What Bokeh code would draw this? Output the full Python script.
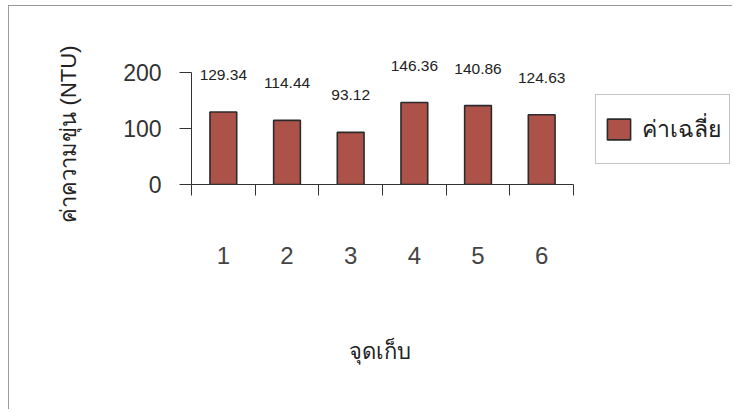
from bokeh.plotting import figure
from bokeh.models import ColumnDataSource, LabelSet, FixedTicker, Legend, LegendItem, Title
from bokeh.core.properties import value
from bokeh.embed import file_html
from bokeh.resources import INLINE

categories = ["1", "2", "3", "4", "5", "6"]
values = [129.34, 114.44, 93.12, 146.36, 140.86, 124.63]
y_ticks = [0, 100, 200]
series_name = "ค่าเฉลี่ย"
x_title = "จุดเก็บ"
y_title = "ค่าความขุ่น (NTU)"

n = len(categories)
positions = [i + 1 for i in range(n)]
source = ColumnDataSource(dict(
    x=positions,
    top=values,
    label=["{:.2f}".format(v) for v in values],
))

W, H = 724, 404
LEFT, TOP, BOTTOM = 182, 22, 226
PX_PER_CAT = 63.67
PX_PER_UNIT = 0.56
x_end = 0.5 + (W - LEFT) / PX_PER_CAT
y_end = (H - TOP - BOTTOM) / PX_PER_UNIT

p = figure(width=W, height=H, output_backend="svg", toolbar_location=None,
           x_range=(0.5, x_end), y_range=(0, y_end),
           min_border_left=LEFT, min_border_right=0, min_border_top=TOP, min_border_bottom=BOTTOM)
p.styles = {"border-top": "1px solid #9a9a9a", "border-left": "1px solid #9a9a9a",
            "margin-left": "8px", "margin-top": "5px"}
p.outline_line_color = None
p.xgrid.grid_line_color = None
p.ygrid.grid_line_color = None
p.background_fill_color = "white"
p.border_fill_color = "white"

bars = p.vbar(x="x", top="top", width=0.42, bottom=0, source=source,
              fill_color="#ad5249", line_color="#2b2b2b", line_width=1.6)

labels = LabelSet(x="x", y="top", text="label", source=source,
                  text_align="center", text_baseline="middle", y_offset=37,
                  text_font=value("Liberation Sans"), text_font_size=value("15.5px"),
                  text_color="#222222")
p.add_layout(labels)

# x axis
xa = p.xaxis[0]
xa.bounds = (0.5, n + 0.5)
xa.ticker = FixedTicker(ticks=positions, minor_ticks=[i + 0.5 for i in range(n + 1)])
xa.major_label_overrides = {pos: c for pos, c in zip(positions, categories)}
xa.major_tick_out = 0
xa.major_tick_in = 0
xa.minor_tick_out = 11
xa.minor_tick_in = 0
xa.minor_tick_line_color = "#333333"
xa.axis_line_color = "#333333"
xa.major_label_standoff = 51
xa.major_label_text_font = "Liberation Sans"
xa.major_label_text_font_size = "24px"
xa.major_label_text_color = "#444444"
# the frame is widened to hold the legend, so the centred label is padded
# with trailing no-break spaces to sit under the bars as in the reference
xa.axis_label = x_title + "\u00a0" * 27
xa.axis_label_standoff = 72
xa.axis_label_text_font = "Liberation Sans"
xa.axis_label_text_font_style = "normal"
xa.axis_label_text_font_size = "22px"
xa.axis_label_text_color = "#222222"

# y axis
ya = p.yaxis[0]
ya.bounds = (0, 200)
ya.ticker = FixedTicker(ticks=y_ticks)
ya.major_tick_out = 12
ya.major_tick_in = 0
ya.minor_tick_out = 0
ya.minor_tick_in = 0
ya.major_tick_line_color = "#333333"
ya.axis_line_color = "#333333"
ya.major_label_standoff = 18
ya.major_label_text_font = "Liberation Sans"
ya.major_label_text_font_size = "23px"
ya.major_label_text_color = "#333333"

ytitle = Title(text=y_title, align="left", offset=-38, standoff=80,
               text_font="Liberation Sans", text_font_style="normal",
               text_font_size="22px", text_color="#222222")
p.add_layout(ytitle, "left")

legend = Legend(items=[LegendItem(label=series_name, renderers=[bars])],
                location=(404, 20), margin=0, padding=8,
                glyph_width=29, glyph_height=26, label_height=52, label_standoff=9,
                label_text_font="Liberation Sans", label_text_font_size="23px",
                label_text_color="#222222",
                border_line_color="#8a8a8a", border_line_width=1,
                background_fill_color="white", background_fill_alpha=1)
p.add_layout(legend, "center")

open("out.html", "w").write(file_html(p, INLINE))
